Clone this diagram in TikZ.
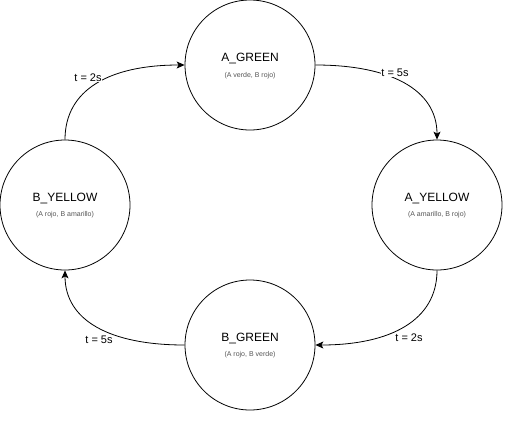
\documentclass[tikz,border=0pt]{standalone}
\usepackage{fontspec}
\setmainfont{Liberation Sans}
\usetikzlibrary{arrows.meta}
\definecolor{subgray}{HTML}{555555}
\begin{document}
\begin{tikzpicture}[x=1pt,y=-1pt,
  state/.style={circle,draw=black,line width=0.8pt,minimum size=130pt,inner sep=0pt,fill=white},
  title/.style={font=\fontsize{12}{14}\selectfont},
  sub/.style={font=\fontsize{7}{8}\selectfont,text=subgray},
  trans/.style={draw=black,line width=0.8pt,-{Stealth[length=8pt,width=7pt,inset=2pt]}},
  lbl/.style={font=\fontsize{11}{13}\selectfont,fill=white,inner sep=0.5pt}]
\useasboundingbox[fill=white] (0,0) rectangle (508,421);
\node[state] (ag) at (250,65) {};
\node[state] (ay) at (437,205) {};
\node[state] (bg) at (250,345) {};
\node[state] (by) at (65,205) {};
\node[title] (agt) at (250,58) {A\_GREEN};
\node[sub] (ags) at (250,76) {(A verde, B rojo)};
\node[title] (ayt) at (437,198) {A\_YELLOW};
\node[sub] (ays) at (437,215) {(A amarillo, B rojo)};
\node[title] (bgt) at (250,338) {B\_GREEN};
\node[sub] (bgs) at (250,355) {(A rojo, B verde)};
\node[title] (byt) at (65,198) {B\_YELLOW};
\node[sub] (bys) at (65,215) {(A rojo, B amarillo)};
\draw[trans] (ag.east) .. controls +(75,0) and +(0,-50) .. (ay.north);
\draw[trans] (ay.south) .. controls +(0,50) and +(75,0) .. (bg.east);
\draw[trans] (bg.west) .. controls +(-75,0) and +(0,50) .. (by.south);
\draw[trans] (by.north) .. controls +(0,-50) and +(-75,0) .. (ag.west);
\node[lbl] (l1) at (395,73) {t = 5s};
\node[lbl] (l2) at (409,338) {t = 2s};
\node[lbl] (l3) at (99,340) {t = 5s};
\node[lbl] (l4) at (88,78) {t = 2s};
\end{tikzpicture}
\end{document}
